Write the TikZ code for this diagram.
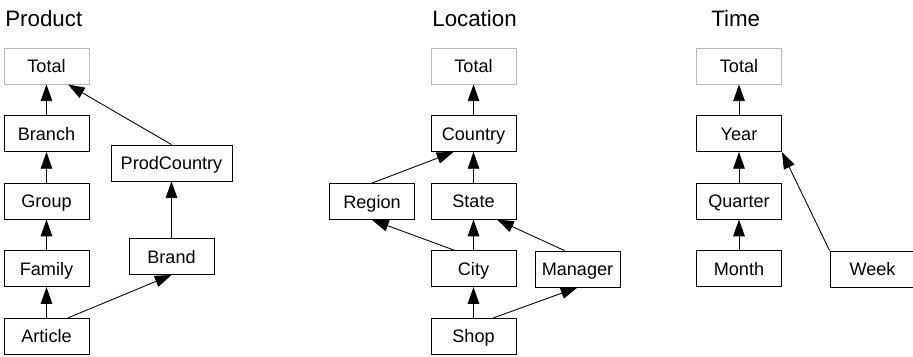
\documentclass[tikz,border=0pt]{standalone}
\usepackage{fontspec}
\setmainfont{Liberation Sans}
\usetikzlibrary{positioning,arrows.meta}
\tikzset{
  level/.style={draw,line width=0.5pt,minimum width=1.7cm,minimum height=0.72cm,inner sep=2pt,
    text height=7.4pt,text depth=0pt,font=\fontsize{10.3}{12}\selectfont},
  top/.style={level,draw=gray!55},
  dimname/.style={anchor=base west,inner sep=0pt,font=\fontsize{12.7}{15}\selectfont},
  up/.style={-{Triangle[length=9.5pt,width=6.6pt]},line width=0.5pt}
}
\begin{document}
\begin{tikzpicture}[node distance=0.614cm]
        \useasboundingbox (0,0) rectangle (18.26,-7.12);
        %% Product
        \node[dimname] at (0.1,-0.534) {Product};
        \node[top] (pTotal) at (0.93,-1.32) {Total};
        \node[level,below=of pTotal] (pBranch) {Branch};
        \node[level,below=of pBranch] (pGroup) {Group};
        \node[level,below=of pGroup] (pFamily) {Family};
        \node[level,below=of pFamily] (pArticle) {Article};
        \node[level,minimum width=2.42cm] (pCountry) at (3.43,-3.26) {ProdCountry};
        \node[level] (pBrand) at (3.43,-5.13) {Brand};
        \draw[up] (pBranch) -- (pTotal);
        \draw[up] (pGroup) -- (pBranch);
        \draw[up] (pFamily) -- (pGroup);
        \draw[up] (pArticle) -- (pFamily);
        \draw[up] (pBrand) -- (pCountry);
        \draw[up] (pCountry.north) -- ([xshift=0.43cm]pTotal.south);
        \draw[up] ([xshift=0.43cm]pArticle.north) -- (pBrand.south);
        %% Location
        \node[dimname] at (8.64,-0.534) {Location};
        \node[top] (lTotal) at (9.47,-1.32) {Total};
        \node[level,below=of lTotal] (lCountry) {Country};
        \node[level,below=of lCountry] (lState) {State};
        \node[level,below=of lState] (lCity) {City};
        \node[level,below=of lCity] (lShop) {Shop};
        \node[level] (lRegion) at (7.44,-4.03) {Region};
        \node[level] (lManager) at (11.55,-5.38) {Manager};
        \draw[up] (lCountry) -- (lTotal);
        \draw[up] (lState) -- (lCountry);
        \draw[up] (lCity) -- (lState);
        \draw[up] (lShop) -- (lCity);
        \draw[up] (lRegion.north) -- ([xshift=-0.4cm]lCountry.south);
        \draw[up] ([xshift=-0.38cm]lCity.north) -- (lRegion.south);
        \draw[up] ([xshift=-0.26cm]lManager.north) -- ([xshift=0.47cm]lState.south);
        \draw[up] ([xshift=0.4cm]lShop.north) -- (lManager.south);
        %% Time
        \node[dimname] at (14.22,-0.534) {Time};
        \node[top] (tTotal) at (14.78,-1.32) {Total};
        \node[level,below=of tTotal] (tYear) {Year};
        \node[level,below=of tYear] (tQuarter) {Quarter};
        \node[level,below=of tQuarter] (tMonth) {Month};
        \node[level] (tWeek) at (17.45,-5.38) {Week};
        \draw[up] (tYear) -- (tTotal);
        \draw[up] (tQuarter) -- (tYear);
        \draw[up] (tMonth) -- (tQuarter);
        \draw[up] (tWeek.north west) -- (tYear.south east);
    \end{tikzpicture}
\end{document}
